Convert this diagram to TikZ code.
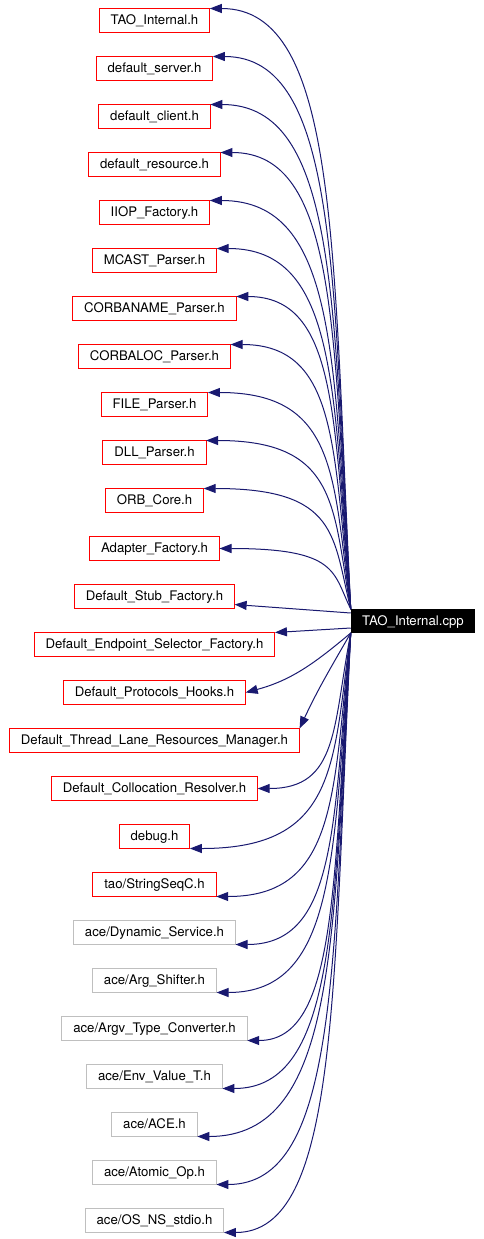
\documentclass[tikz,border=0pt]{standalone}
\usepackage{fontspec}
\setmainfont{TeX Gyre Heros}
\usepackage{xcolor}
\usepackage{tikz}
\usetikzlibrary{arrows.meta}
\usetikzlibrary{positioning, calc}
\definecolor{edgeblue}{RGB}{25,25,112}
\definecolor{hdrgray}{RGB}{191,191,191}
\tikzset{
    filenode/.style = {inner sep=0pt, inner xsep=11.5pt, outer sep=0pt,
        minimum height=24pt, text height=10pt, text depth=2pt,
        line width=1pt, font=\fontsize{13.2}{15}\selectfont},
    tao_hdr/.style = {filenode, draw=red},
    ace_hdr/.style = {filenode, draw=hdrgray},
    this_file/.style = {filenode, fill=black, text=white},
    dep/.style = {draw=edgeblue, line width=1pt},
}

\begin{document}
\begin{tikzpicture}[x=1pt, y=-1pt, ->, >={Triangle[length=12pt, width=9pt]}]
            \useasboundingbox (0,0) rectangle (484,1239);
            \node (h0) [tao_hdr] at (154.5,20.5) {TAO\_Internal.h};
            \node (h1) [tao_hdr, below=24pt of h0] {default\_server.h};
            \node (h2) [tao_hdr, below=24pt of h1] {default\_client.h};
            \node (h3) [tao_hdr, below=24pt of h2] {default\_resource.h};
            \node (h4) [tao_hdr, below=24pt of h3] {IIOP\_Factory.h};
            \node (h5) [tao_hdr, below=24pt of h4] {MCAST\_Parser.h};
            \node (h6) [tao_hdr, below=24pt of h5] {CORBANAME\_Parser.h};
            \node (h7) [tao_hdr, below=24pt of h6] {CORBALOC\_Parser.h};
            \node (h8) [tao_hdr, below=24pt of h7] {FILE\_Parser.h};
            \node (h9) [tao_hdr, below=24pt of h8] {DLL\_Parser.h};
            \node (h10) [tao_hdr, below=24pt of h9] {ORB\_Core.h};
            \node (h11) [tao_hdr, below=24pt of h10] {Adapter\_Factory.h};
            \node (h12) [tao_hdr, below=24pt of h11] {Default\_Stub\_Factory.h};
            \node (h13) [tao_hdr, below=24pt of h12] {Default\_Endpoint\_Selector\_Factory.h};
            \node (h14) [tao_hdr, below=24pt of h13] {Default\_Protocols\_Hooks.h};
            \node (h15) [tao_hdr, below=24pt of h14] {Default\_Thread\_Lane\_Resources\_Manager.h};
            \node (h16) [tao_hdr, below=24pt of h15] {Default\_Collocation\_Resolver.h};
            \node (h17) [tao_hdr, below=24pt of h16] {debug.h};
            \node (h18) [tao_hdr, below=24pt of h17] {tao/StringSeqC.h};
            \node (h19) [ace_hdr, below=24pt of h18] {ace/Dynamic\_Service.h};
            \node (h20) [ace_hdr, below=24pt of h19] {ace/Arg\_Shifter.h};
            \node (h21) [ace_hdr, below=24pt of h20] {ace/Argv\_Type\_Converter.h};
            \node (h22) [ace_hdr, below=24pt of h21] {ace/Env\_Value\_T.h};
            \node (h23) [ace_hdr, below=24pt of h22] {ace/ACE.h};
            \node (h24) [ace_hdr, below=24pt of h23] {ace/Atomic\_Op.h};
            \node (h25) [ace_hdr, below=24pt of h24] {ace/OS\_NS\_stdio.h};
            \node (cpp) [this_file] at (413,621) {TAO\_Internal.cpp};
            % headers above the source file
            \foreach \h/\a in {h0/north east, h1/north east, h2/north east, h3/north east,
                    h4/north east, h5/north east, h6/north east, h7/north east,
                    h8/north east, h9/north east, h10/north east, h11/east}
                \draw[dep] (cpp.north west)
                    .. controls ($(cpp.north west)!0.6!(cpp.north west |- \h.\a)+(-18,0)$)
                    and ($(cpp.north west |- \h.\a)+(-12,0)$) .. (\h.\a);
            \draw[dep] ([yshift=8pt]cpp.west) -- ([yshift=-8pt]h12.east);
            \draw[dep] ([yshift=-7pt]cpp.west) -- (h13.north east);
            \draw[dep] (cpp.south west) to[out=220, in=15] (h14.east);
            \draw[dep] (cpp.south west) to[out=240, in=65] (h15.north east);
            % headers below it
            \foreach \h/\a in {h16/east, h17/south east, h18/south east, h19/south east,
                    h20/south east, h21/south east, h22/south east, h23/south east,
                    h24/south east, h25/south east}
                \draw[dep] (cpp.south west)
                    .. controls ($(cpp.south west)!0.6!(cpp.south west |- \h.\a)+(-18,0)$)
                    and ($(cpp.south west |- \h.\a)+(-12,0)$) .. (\h.\a);
\end{tikzpicture}
\end{document}
